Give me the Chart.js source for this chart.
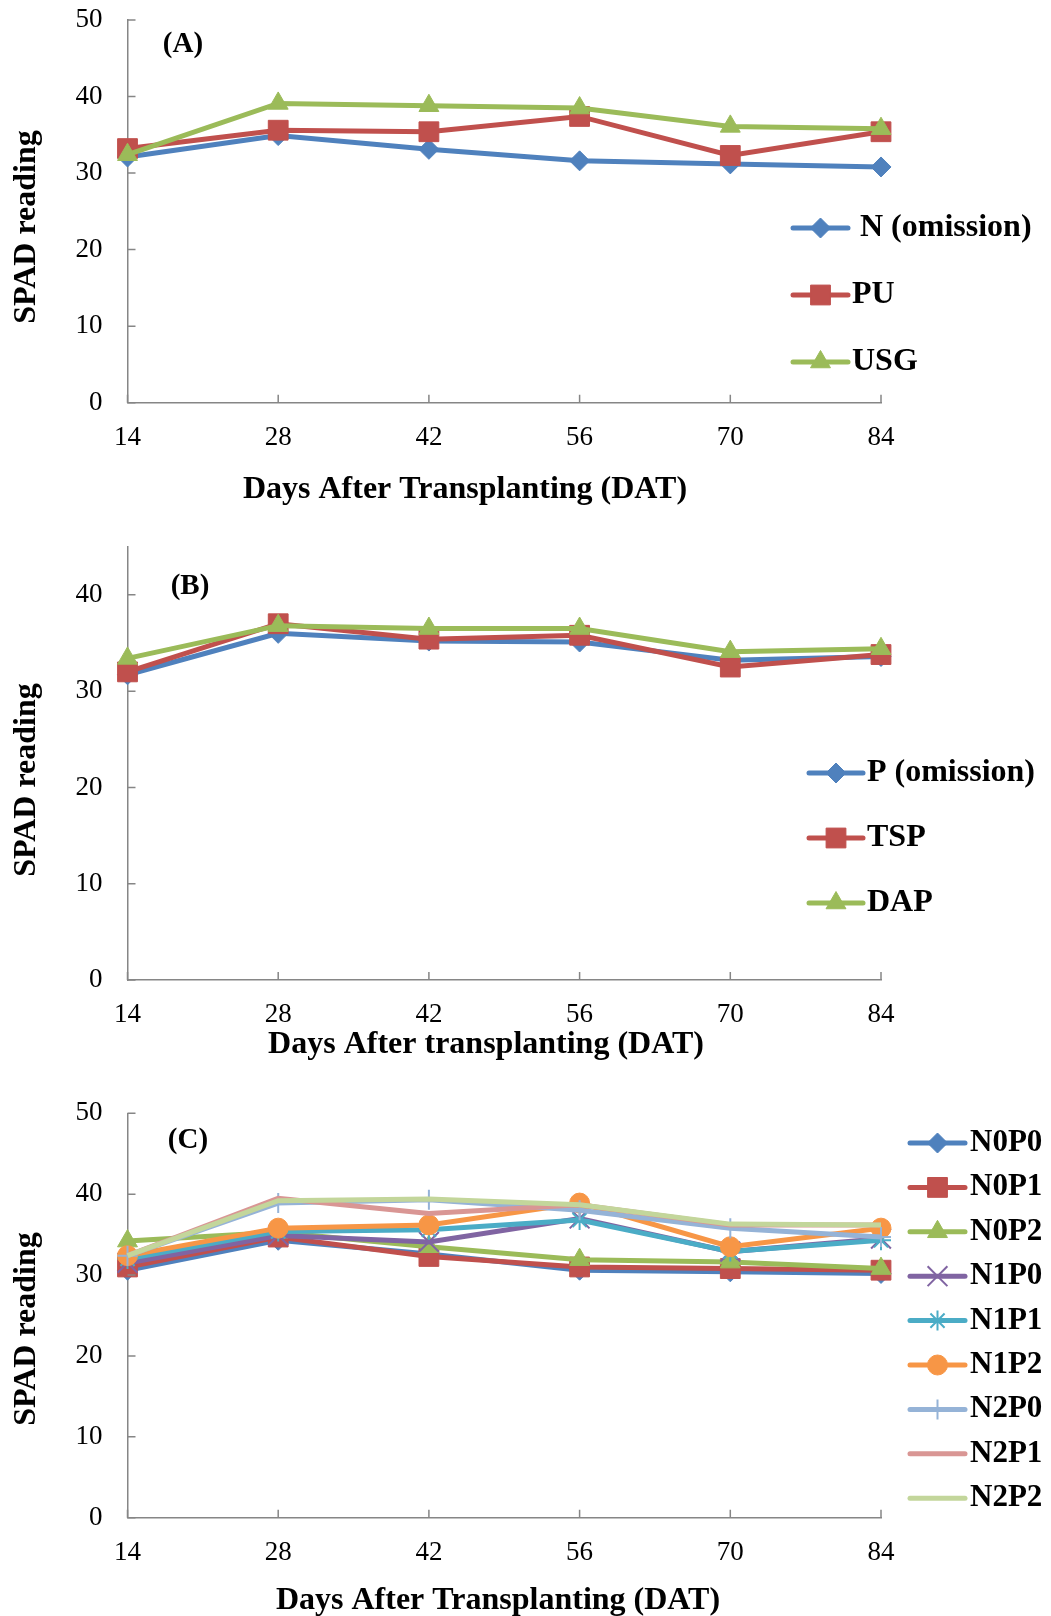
<!DOCTYPE html>
<html lang="en">
<head>
<meta charset="UTF-8">
<title>SPAD reading</title>
<script src="https://cdn.jsdelivr.net/npm/chart.js"></script>
<style>
  body { margin: 0; background: #fff; overflow: hidden; }
  #wrap { position: relative; width: 1051px; height: 1616px; overflow: hidden; }
  canvas { position: absolute; left: 0; }
</style>
</head>
<body>
<div id="wrap">
  <canvas id="chartA" width="1051" height="545" style="top:-30px"></canvas>
  <canvas id="chartB" width="1051" height="580" style="top:485px"></canvas>
  <canvas id="chartC" width="1051" height="551" style="top:1065px"></canvas>
</div>
<script>
// ---- data ----
const days = ['14', '28', '42', '56', '70', '84'];
const yTicks50 = [0, 10, 20, 30, 40, 50];
const yTicks45 = [0, 10, 20, 30, 40];

// (A) nitrogen sources
const namesA = [' N (omission)', 'PU', 'USG'];
const nOmission = [32.1, 34.9, 33.1, 31.6, 31.2, 30.8];
const pu        = [33.2, 35.6, 35.4, 37.4, 32.3, 35.4];
const usg       = [32.4, 39.1, 38.8, 38.5, 36.1, 35.8];

// (B) phosphorus sources
const namesB = ['P (omission)', 'TSP', 'DAP'];
const pOmission = [31.7, 36.0, 35.2, 35.1, 33.2, 33.6];
const tsp       = [32.0, 37.0, 35.4, 35.8, 32.5, 33.8];
const dap       = [33.4, 36.8, 36.5, 36.5, 34.1, 34.4];

// (C) N x P combinations
const namesC = ['N0P0', 'N0P1', 'N0P2', 'N1P0', 'N1P1', 'N1P2', 'N2P0', 'N2P1', 'N2P2'];
const n0p0 = [30.6, 34.3, 32.6, 30.6, 30.4, 30.2];
const n0p1 = [31.0, 34.7, 32.3, 31.0, 30.8, 30.6];
const n0p2 = [34.2, 35.3, 33.5, 31.9, 31.6, 30.8];
const n1p0 = [31.5, 34.9, 34.1, 37.0, 32.9, 34.5];
const n1p1 = [32.0, 35.4, 35.6, 36.8, 32.9, 34.3];
const n1p2 = [32.4, 35.8, 36.2, 38.9, 33.5, 35.8];
const n2p0 = [32.4, 38.9, 39.3, 38.0, 35.8, 34.7];
const n2p1 = [32.4, 39.5, 37.6, 38.7, 36.2, 36.2];
const n2p2 = [32.4, 39.2, 39.4, 38.7, 36.3, 36.2];

// ---- look ----
const axisColor = '#868686';
const serif = '"Liberation Serif", "Times New Roman", serif';
Chart.defaults.font.family = serif;
Chart.defaults.color = '#000';

const style3 = [
  { color: '#4F81BD', point: 'rectRot', r: 10 },
  { color: '#C0504D', point: 'rect', r: 14 },
  { color: '#9BBB59', point: 'triangle', r: 11.5 }
];
const style9 = style3.concat([
  { color: '#8064A2', point: 'crossRot', r: 14, bw: 2 },
  { color: '#4BACC6', point: 'star', r: 10, bw: 2 },
  { color: '#F79646', point: 'circle', r: 10 },
  { color: '#95B3D7', point: 'cross', r: 10, bw: 2 },
  { color: '#D99694', point: false, r: 0 },
  { color: '#C3D69B', point: false, r: 0 }
]);

function makeSets(names, values, styles) {
  return names.map((name, i) => ({
    label: name,
    data: values[i],
    borderColor: styles[i].color,
    backgroundColor: styles[i].color,
    borderWidth: 5,
    pointStyle: styles[i].point,
    pointRadius: styles[i].r,
    pointHoverRadius: styles[i].r,
    pointBackgroundColor: styles[i].color,
    pointBorderColor: styles[i].color,
    pointBorderWidth: styles[i].bw || 1,
    tension: 0,
    clip: false,
    order: names.length - i   // later series drawn on top, like the original
  }));
}

// tick marks inside the plot, panel tag, axis titles and legend
// (decor positions are page coordinates; pageTop is where the canvas sits)
const decor = {
  id: 'decor',
  afterDraw(chart, args, o) {
    const { ctx, chartArea: a, scales: { x, y } } = chart;
    ctx.save();
    ctx.strokeStyle = axisColor;
    ctx.lineWidth = 1.5;
    ctx.beginPath();
    y.ticks.forEach((t, i) => {
      const py = y.getPixelForTick(i);
      ctx.moveTo(a.left, py); ctx.lineTo(a.left + 8, py);
    });
    x.ticks.forEach((t, i) => {
      const px = x.getPixelForTick(i);
      ctx.moveTo(px, a.bottom); ctx.lineTo(px, a.bottom - 8);
    });
    ctx.stroke();

    ctx.translate(0, -o.pageTop);
    ctx.fillStyle = '#000';
    ctx.textBaseline = 'middle';
    ctx.textAlign = 'center';
    ctx.font = 'bold 29px ' + serif;
    ctx.fillText(o.tag, o.tagX, o.tagY);

    ctx.font = 'bold 32px ' + serif;
    ctx.fillText(o.xTitle, o.xTitleX, o.xTitleY);
    ctx.save();
    ctx.translate(o.yTitleX, o.yTitleY);
    ctx.rotate(-Math.PI / 2);
    ctx.fillText('SPAD reading', 0, 0);
    ctx.restore();

    // legend
    ctx.textAlign = 'left';
    ctx.font = 'bold ' + o.legFont + 'px ' + serif;
    chart.data.datasets.forEach((ds, i) => {
      const ly = o.legY + i * o.legDy;
      ctx.strokeStyle = ds.borderColor;
      ctx.lineWidth = ds.borderWidth;
      ctx.lineCap = 'round';
      ctx.beginPath();
      ctx.moveTo(o.legX0, ly); ctx.lineTo(o.legX1, ly);
      ctx.stroke();
      ctx.lineCap = 'butt';
      if (ds.pointStyle && ds.pointRadius > 0) {
        ctx.fillStyle = ds.pointBackgroundColor;
        ctx.strokeStyle = ds.pointBorderColor;
        ctx.lineWidth = ds.pointBorderWidth;
        Chart.helpers.drawPoint(ctx, {
          pointStyle: ds.pointStyle, radius: ds.pointRadius,
          borderWidth: ds.pointBorderWidth, rotation: 0
        }, (o.legX0 + o.legX1) / 2, ly);
      }
      ctx.fillStyle = '#000';
      ctx.fillText(ds.label, o.legText, ly);
    });
    ctx.restore();
  }
};
Chart.register(decor);

function makeOptions(cfg) {
  return {
    responsive: false,
    animation: false,
    events: [],
    layout: { padding: { left: 0, top: cfg.top, right: 170, bottom: 0 } },
    plugins: { legend: { display: false }, tooltip: { enabled: false }, decor: cfg.decor },
    scales: {
      x: {
        type: 'category',
        offset: false,
        grid: { display: false, drawTicks: false },
        border: { color: axisColor, width: 1.5 },
        ticks: { font: { size: 27 }, padding: 19, maxRotation: 0, autoSkip: false },
        afterFit(s) { s.height = cfg.xh; }
      },
      y: {
        min: 0,
        max: cfg.max,
        grid: { display: false, drawTicks: false },
        border: { color: axisColor, width: 1.5 },
        ticks: { font: { size: 27 }, padding: 25 },
        afterBuildTicks(s) { s.ticks = cfg.ticks.map(v => ({ value: v })); },
        afterFit(s) { s.width = 127.5; }
      }
    }
  };
}

new Chart(document.getElementById('chartA'), {
  type: 'line',
  data: { labels: days, datasets: makeSets(namesA, [nOmission, pu, usg], style3) },
  options: makeOptions({
    top: 50, xh: 112.3, max: 50, ticks: yTicks50,
    decor: {
      pageTop: -30,
      tag: '(A)', tagX: 183, tagY: 45,
      xTitle: 'Days After Transplanting (DAT)', xTitleX: 465, xTitleY: 490,
      yTitleX: 27, yTitleY: 227,
      legFont: 32, legX0: 793, legX1: 848, legText: 852, legY: 228, legDy: 67
    }
  })
});

new Chart(document.getElementById('chartB'), {
  type: 'line',
  data: { labels: days, datasets: makeSets(namesB, [pOmission, tsp, dap], style3) },
  options: makeOptions({
    top: 61.7, xh: 85, max: 45, ticks: yTicks45,
    decor: {
      pageTop: 485,
      tag: '(B)', tagX: 190, tagY: 587,
      xTitle: 'Days After transplanting (DAT)', xTitleX: 486, xTitleY: 1045,
      yTitleX: 27, yTitleY: 780,
      legFont: 32, legX0: 809, legX1: 863, legText: 867, legY: 773, legDy: 65
    }
  })
});

new Chart(document.getElementById('chartC'), {
  type: 'line',
  data: {
    labels: days,
    datasets: makeSets(namesC, [n0p0, n0p1, n0p2, n1p0, n1p1, n1p2, n2p0, n2p1, n2p2], style9)
  },
  options: makeOptions({
    top: 48.3, xh: 98.3, max: 50, ticks: yTicks50,
    decor: {
      pageTop: 1065,
      tag: '(C)', tagX: 188, tagY: 1141,
      xTitle: 'Days After Transplanting (DAT)', xTitleX: 498, xTitleY: 1601,
      yTitleX: 27, yTitleY: 1329,
      legFont: 31, legX0: 910, legX1: 965, legText: 970, legY: 1143, legDy: 44.4
    }
  })
});
</script>
</body>
</html>
